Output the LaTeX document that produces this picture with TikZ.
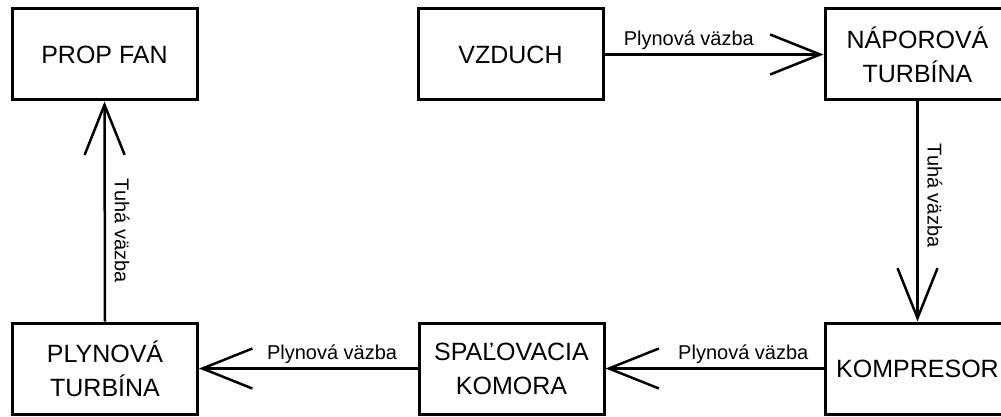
\documentclass[tikz,border=0pt]{standalone}
\usepackage{fontspec}
\setmainfont{Liberation Sans}
\usetikzlibrary{arrows.meta}
\begin{document}
\begin{tikzpicture}[x=1pt,y=-1pt,
  block/.style={draw, line width=3pt, minimum width=185pt, minimum height=91pt,
    inner sep=0pt, align=center, font=\fontsize{25}{34}\selectfont},
  link/.style={line width=2.5pt, -{Straight Barb[length=50pt,width=40pt]}},
  tag/.style={font=\fontsize{20}{24}\selectfont, inner sep=0pt, anchor=base},
]
\useasboundingbox (0,0) rectangle (1001,417);

% upper row
\node[block] (prop)  at (104.5,54.5) {PROP FAN};
\node[block] (vzduch) at (510.5,54.5) {VZDUCH};
\node[block] (napor) at (917.5,54.5) {NÁPOROVÁ\\TURBÍNA};

% lower row
\node[block] (plyn)  at (105,368.5) {PLYNOVÁ\\TURBÍNA};
\node[block] (spal)  at (511.5,368.5) {SPAĽOVACIA\\KOMORA};
\node[block] (komp)  at (917.5,368.5) {KOMPRESOR};

% couplings
\draw[link] (vzduch.east) -- node[tag, pos=0.385, yshift=9pt] {Plynová väzba} (napor.west);
\draw[link] (napor.south) -- node[tag, pos=0.427, xshift=10pt, rotate=-90] {Tuhá väzba} (komp.north);
\draw[link] (komp.west) -- node[tag, pos=0.368, yshift=9pt] {Plynová väzba} (spal.east);
\draw[link] (spal.west) -- node[tag, pos=0.391, yshift=9pt] {Plynová väzba} (plyn.east);
\draw[link] (plyn.north) -- node[tag, pos=0.413, xshift=10pt, rotate=-90] {Tuhá väzba} (prop.south);
\end{tikzpicture}
\end{document}
